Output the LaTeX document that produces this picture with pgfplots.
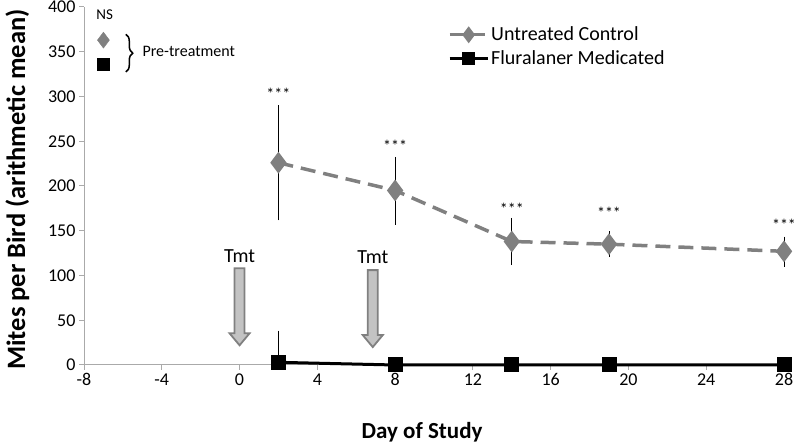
\documentclass[border=0pt]{standalone}
\usepackage{pgfplots}
\pgfplotsset{compat=1.18}
\usepackage{pgfplotstable}
\usepackage{fontspec}
\setmainfont{Carlito}
\usetikzlibrary{decorations.pathreplacing}
\definecolor{ctrl}{RGB}{128,128,128}
\definecolor{axgray}{RGB}{170,170,170}
\definecolor{arrfill}{RGB}{195,195,195}
\definecolor{arrline}{RGB}{128,128,128}

\pgfplotsset{
  ctrllegend/.style={legend image code/.code={\draw[mark repeat=2,mark phase=2,##1,solid,mark size=6pt,line width=3pt] plot coordinates {(0pt,0pt) (19pt,0pt) (35pt,0pt)};}},
  medlegend/.style={legend image code/.code={\draw[mark repeat=2,mark phase=2,##1,mark size=5pt] plot coordinates {(0pt,0pt) (19pt,0pt) (38pt,0pt)};}},
}

\pgfplotstableread{
x y ep em
2 226 60 60
8 195 33 34
14 138 22 22
19 135 10 10
28 127 12 13
}\ctrltab
\pgfplotstableread{
x y ep em
2 3 31 0
8 0 0 0
14 0 0 0
19 0 0 0
28 0 0 0
}\medtab
\pgfplotstableread{
x y
-7 363
}\prectrl
\pgfplotstableread{
x y
-7 336
}\premed

\begin{document}
\begin{tikzpicture}
\useasboundingbox (0,0) rectangle (797pt,443pt);
\begin{axis}[
 at={(84pt,78pt)}, anchor=south west,
 scale only axis, width=700pt, height=358pt,
 xmin=-8, xmax=28, ymin=0, ymax=400,
 xtick={-8,-4,...,28}, ytick={0,50,...,400},
 axis lines=left, axis line style={axgray, line width=1pt, -},
 tick align=outside, major tick length=5pt, tick style={axgray, line width=1pt},
 ticklabel style={font=\fontsize{18}{21}\selectfont},
 /pgf/number format/assume math mode=true,
 xlabel={Day of Study}, ylabel={Mites per Bird (arithmetic mean)},
 xlabel style={font=\fontsize{23}{27}\selectfont\bfseries, at={(axis description cs:0.483,-0.187)}, anchor=center},
 ylabel style={font=\fontsize{26.5}{30}\selectfont\bfseries, at={(axis description cs:-0.095,0.49)}, anchor=center},
 clip=false,
 legend style={at={(axis description cs:0.52,0.95)}, anchor=north west, draw=none, fill=none,
   font=\fontsize{20}{24}\selectfont, row sep=4pt, inner sep=0pt, cells={anchor=west}},
 legend cell align=left,
]
\addplot[ctrl, line width=3.5pt, dash pattern=on 15pt off 8pt, mark=diamond*, mark size=8pt,
  mark options={solid, fill=ctrl, draw=ctrl}, ctrllegend,
  error bars/.cd, y dir=both, y explicit,
  error bar style={black, line width=0.8pt, solid},
  error mark options={black, mark size=4pt, line width=0.8pt, solid}]
  table[x=x, y=y, y error plus=ep, y error minus=em] {\ctrltab};
\addlegendentry{Untreated Control}
\addplot[black, line width=3pt, mark=square*, mark size=6pt, medlegend,
  error bars/.cd, y dir=plus, y explicit,
  error bar style={black, line width=0.8pt},
  error mark options={black, mark size=4pt, line width=0.8pt}]
  table[x=x, y=y, y error plus=ep, y error minus=em] {\medtab};
\addlegendentry{Fluralaner Medicated}
\addplot[only marks, mark=diamond*, mark size=8pt, ctrl, forget plot] table {\prectrl};
\addplot[only marks, mark=square*, mark size=6pt, black, forget plot] table {\premed};

% significance
\node[font=\fontsize{16}{18}\selectfont, inner sep=0pt] at (axis cs:2,303) {***};
\node[font=\fontsize{16}{18}\selectfont, inner sep=0pt] at (axis cs:8,245) {***};
\node[font=\fontsize{16}{18}\selectfont, inner sep=0pt] at (axis cs:14,174) {***};
\node[font=\fontsize{16}{18}\selectfont, inner sep=0pt] at (axis cs:19,170) {***};
\node[font=\fontsize{16}{18}\selectfont, inner sep=0pt] at (axis cs:28,157) {***};
\node[font=\fontsize{15}{17}\selectfont, inner sep=0pt] at (axis cs:-6.94,391) {NS};
\draw[line width=1.5pt, decorate, decoration={brace, amplitude=7pt}] (axis cs:-5.85,369.5) -- (axis cs:-5.85,327.4);
\node[font=\fontsize{16}{19}\selectfont, anchor=west, inner sep=0pt] at (axis cs:-5.0,350) {Pre-treatment};

% treatment arrows
\filldraw[fill=arrfill, draw=arrline, line width=1.8pt, line join=miter]
  ([xshift=-5pt]axis cs:0,108) -- ([xshift=5pt]axis cs:0,108) -- ([xshift=5pt,yshift=12pt]axis cs:0,22)
  -- ([xshift=10pt,yshift=12pt]axis cs:0,22) -- (axis cs:0,22) -- ([xshift=-10pt,yshift=12pt]axis cs:0,22)
  -- ([xshift=-5pt,yshift=12pt]axis cs:0,22) -- cycle;
\node[font=\fontsize{20}{23}\selectfont, inner sep=0pt] at (axis cs:0,122) {Tmt};
\filldraw[fill=arrfill, draw=arrline, line width=1.8pt, line join=miter]
  ([xshift=-5pt]axis cs:6.85,106) -- ([xshift=5pt]axis cs:6.85,106) -- ([xshift=5pt,yshift=12pt]axis cs:6.85,20)
  -- ([xshift=10pt,yshift=12pt]axis cs:6.85,20) -- (axis cs:6.85,20) -- ([xshift=-10pt,yshift=12pt]axis cs:6.85,20)
  -- ([xshift=-5pt,yshift=12pt]axis cs:6.85,20) -- cycle;
\node[font=\fontsize{20}{23}\selectfont, inner sep=0pt] at (axis cs:6.85,120) {Tmt};
\end{axis}
\end{tikzpicture}
\end{document}
